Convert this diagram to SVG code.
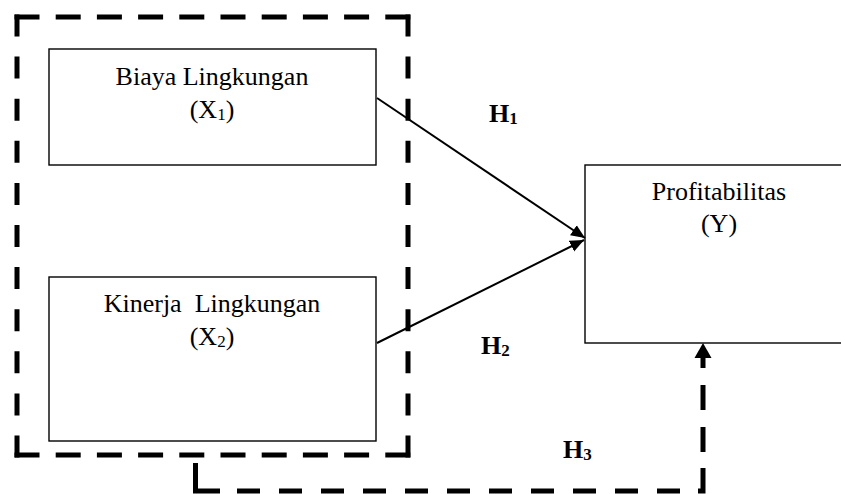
<svg xmlns="http://www.w3.org/2000/svg" width="841" height="494" viewBox="0 0 841 494">
<style>
.box{fill:#fff;stroke:#000;stroke-width:1.4}
.lbl{font-family:"Liberation Serif","Times New Roman",serif;font-size:26px;fill:#000}
.h{font-family:"Liberation Serif","Times New Roman",serif;font-size:26px;font-weight:bold;fill:#000}
.sub{font-size:17px}
.dash{fill:none;stroke:#000;stroke-width:5;stroke-linecap:butt;stroke-linejoin:miter}
.arrow{fill:none;stroke:#000;stroke-width:2}
</style>
<defs>
<marker id="ah" markerUnits="userSpaceOnUse" markerWidth="16" markerHeight="14" viewBox="0 -7 16 14" refX="14" refY="0" orient="auto">
<path d="M0,-6 L14,0 L0,6 z" fill="#000"/>
</marker>
<marker id="ahBig" markerUnits="userSpaceOnUse" markerWidth="16" markerHeight="18" viewBox="0 -9 16 18" refX="0" refY="0" orient="auto">
<path d="M0,-8.5 L15,0 L0,8.5 z" fill="#000"/>
</marker>
</defs>
<rect x="0" y="0" width="841" height="494" fill="#fff"/>
<g id="group-x">
<line class="dash" x1="14.5" y1="17" x2="410.5" y2="17" stroke-dasharray="25 16.2"/>
<line class="dash" x1="14.5" y1="455" x2="410.5" y2="455" stroke-dasharray="25 16.2"/>
<line class="dash" x1="17" y1="14.5" x2="17" y2="457.5" stroke-dasharray="22 20.1"/>
<line class="dash" x1="408" y1="14.5" x2="408" y2="457.5" stroke-dasharray="22 20.1"/>
</g>
<g id="x1">
<rect class="box" x="49" y="49" width="327" height="116"/>
<text class="lbl" x="212" y="85" text-anchor="middle">Biaya Lingkungan</text>
<text class="lbl" x="212" y="118" text-anchor="middle">(X<tspan class="sub" dy="2">1</tspan><tspan dy="-2">)</tspan></text>
</g>
<g id="x2">
<rect class="box" x="49" y="277" width="327" height="164"/>
<text class="lbl" x="212" y="312" text-anchor="middle" style="white-space:pre">Kinerja  Lingkungan</text>
<text class="lbl" x="212" y="345" text-anchor="middle">(X<tspan class="sub" dy="2">2</tspan><tspan dy="-2">)</tspan></text>
</g>
<g id="y">
<rect class="box" x="585" y="165" width="268" height="178"/>
<text class="lbl" x="719" y="200" text-anchor="middle">Profitabilitas</text>
<text class="lbl" x="719" y="232" text-anchor="middle">(Y)</text>
</g>
<g id="connectors">
<line class="arrow" x1="377" y1="98" x2="585" y2="238" marker-end="url(#ah)"/>
<line class="arrow" x1="377" y1="343" x2="584" y2="240" marker-end="url(#ah)"/>
<path class="dash" d="M195.5,463 V491 H703 V358" stroke-dasharray="52.5 17 23 19 23 19 23 19 23 19 23 19 23 19 23 19 23 19 23 19 23 19 23 18 28 16 25 17 25 17 10 100" marker-end="url(#ahBig)"/>
<text class="h" x="489" y="122">H<tspan class="sub" dy="2">1</tspan></text>
<text class="h" x="481" y="354">H<tspan class="sub" dy="2">2</tspan></text>
<text class="h" x="563" y="458">H<tspan class="sub" dy="2">3</tspan></text>
</g>
</svg>
